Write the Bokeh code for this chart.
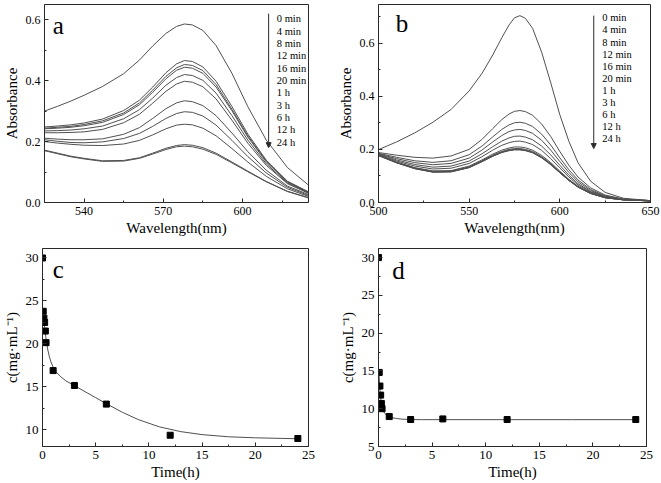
from bokeh.plotting import figure
from bokeh.layouts import column, row
from bokeh.models import Range1d, FixedTicker, PrintfTickFormatter, Arrow, NormalHead
from bokeh.core.properties import value
from bokeh.embed import file_html
from bokeh.resources import INLINE

# ---------------- data ----------------
time_labels = ["0 min", "4 min", "8 min", "12 min", "16 min", "20 min", "1 h", "3 h", "6 h", "12 h", "24 h"]

# panel a: UV-vis spectra
wl_a = [525, 530, 535, 540, 547, 555, 561, 566, 571, 575, 578, 581, 585, 590, 596, 602, 609, 617, 625]
a_0min = [.300, .316, .333, .352, .381, .423, .468, .514, .555, .578, .586, .583, .565, .515, .424, .315, .205, .115, .057]
a_4min = [.248, .251, .255, .261, .274, .302, .336, .379, .426, .455, .466, .463, .445, .398, .315, .225, .139, .070, .035]
a_8min = [.244, .247, .250, .256, .268, .294, .327, .369, .414, .442, .453, .450, .433, .387, .306, .219, .136, .068, .034]
a_12min = [.242, .244, .247, .252, .263, .289, .321, .362, .406, .434, .444, .441, .424, .379, .301, .215, .133, .067, .033]
a_16min = [.235, .236, .238, .242, .251, .275, .305, .343, .385, .410, .420, .417, .401, .359, .285, .205, .127, .064, .032]
a_20min = [.229, .229, .230, .232, .240, .262, .290, .326, .365, .389, .398, .395, .380, .340, .270, .195, .122, .062, .030]
a_1h = [.211, .208, .206, .206, .209, .224, .246, .276, .308, .327, .334, .331, .318, .285, .228, .167, .106, .054, .026]
a_3h = [.206, .201, .197, .196, .199, .210, .227, .250, .276, .292, .298, .296, .284, .254, .204, .151, .097, .050, .023]
a_6h = [.200, .195, .191, .188, .187, .192, .204, .222, .242, .254, .257, .255, .244, .219, .177, .133, .086, .045, .020]
a_12h = [.172, .162, .152, .145, .137, .138, .147, .162, .178, .187, .190, .188, .180, .162, .133, .103, .069, .037, .016]
a_24h = [.170, .160, .150, .143, .135, .136, .145, .159, .174, .183, .185, .183, .175, .158, .130, .101, .068, .036, .015]

# panel b: UV-vis spectra
wl_b = [500, 510, 520, 530, 540, 550, 557, 563, 568, 572, 575, 578, 581, 585, 590, 595, 600, 605, 610, 617, 625, 635, 650]
b_0min = [.199, .228, .262, .302, .350, .420, .485, .555, .620, .668, .695, .703, .693, .655, .565, .450, .330, .230, .150, .080, .038, .016, .007]
b_4min = [.188, .178, .170, .167, .175, .200, .237, .278, .312, .333, .343, .346, .342, .328, .295, .248, .192, .140, .096, .055, .028, .013, .007]
b_8min = [.185, .170, .157, .151, .157, .180, .212, .247, .275, .292, .300, .302, .298, .286, .257, .216, .168, .123, .085, .049, .025, .012, .007]
b_12min = [.183, .165, .150, .142, .147, .167, .197, .228, .252, .267, .273, .275, .271, .260, .234, .197, .154, .113, .078, .045, .023, .012, .007]
b_16min = [.182, .160, .143, .133, .137, .156, .183, .210, .231, .243, .249, .250, .246, .236, .212, .179, .140, .103, .071, .041, .022, .011, .006]
b_20min = [.180, .156, .137, .126, .129, .147, .172, .197, .215, .225, .230, .231, .227, .218, .196, .165, .130, .096, .066, .039, .020, .011, .006]
b_1h = [.179, .152, .131, .119, .120, .137, .160, .182, .197, .205, .209, .209, .206, .197, .177, .150, .118, .087, .061, .036, .019, .010, .006]
b_3h = [.178, .151, .130, .117, .118, .134, .157, .178, .192, .200, .203, .203, .200, .192, .172, .146, .115, .085, .059, .035, .018, .010, .006]
b_6h = [.177, .150, .128, .115, .116, .132, .155, .176, .190, .197, .200, .200, .197, .189, .170, .144, .113, .084, .059, .034, .018, .010, .006]
b_12h = [.176, .149, .127, .114, .115, .131, .153, .174, .189, .196, .199, .199, .196, .188, .169, .143, .112, .083, .058, .034, .018, .010, .006]
b_24h = [.178, .150, .128, .115, .116, .132, .154, .174, .188, .195, .198, .198, .195, .187, .168, .142, .112, .083, .058, .034, .018, .010, .006]

# panel c: concentration vs time
t_c = [0, 0.067, 0.133, 0.2, 0.267, 0.333, 1, 3, 6, 12, 24]
c_c = [30, 23.8, 23.0, 22.5, 21.5, 20.15, 16.9, 15.17, 13.0, 9.38, 9.0]
fit_t_c = [0.1, 0.2, 0.3, 0.4, 0.5, 0.65, 0.8, 1.0, 1.3, 1.7, 2.2, 3.0, 4.0, 5.0, 6.0, 7.5, 9.0, 11.0, 13.0, 15.0, 17.5, 20.0, 24.0]
fit_c_c = [23.2, 21.9, 20.9, 20.0, 19.3, 18.5, 17.9, 17.3, 16.7, 16.2, 15.7, 15.15, 14.45, 13.75, 13.05, 12.05, 11.2, 10.35, 9.8, 9.45, 9.2, 9.08, 8.97]

# panel d: concentration vs time
t_d = [0, 0.067, 0.133, 0.2, 0.267, 0.333, 1, 3, 6, 12, 24]
c_d = [30, 14.8, 13.0, 11.8, 10.7, 10.0, 8.96, 8.57, 8.65, 8.57, 8.57]
fit_t_d = [0.05, 0.1, 0.15, 0.2, 0.27, 0.33, 0.45, 0.6, 0.8, 1.0, 1.3, 1.7, 2.2, 3, 4, 6, 9, 12, 18, 24]
fit_c_d = [14.6, 13.2, 12.2, 11.4, 10.7, 10.2, 9.7, 9.35, 9.1, 8.95, 8.8, 8.7, 8.62, 8.57, 8.55, 8.55, 8.55, 8.55, 8.55, 8.55]

# ticks
xt_a, xm_a = [540, 570, 600], [555, 585, 615]
yt_a, ym_a = [0.0, 0.2, 0.4, 0.6], [0.1, 0.3, 0.5]
xt_b, xm_b = [500, 550, 600, 650], [525, 575, 625]
yt_b, ym_b = [0.0, 0.2, 0.4, 0.6], [0.1, 0.3, 0.5, 0.7]
xt_t, xm_t = [0, 5, 10, 15, 20, 25], [2.5, 7.5, 12.5, 17.5, 22.5]
yt_c, ym_c = [10, 15, 20, 25, 30], [12.5, 17.5, 22.5, 27.5]
yt_d, ym_d = [5, 10, 15, 20, 25, 30], [7.5, 12.5, 17.5, 22.5, 27.5]

# ---------------- styling ----------------
FONT = "Liberation Serif"
LINE = "#505050"
AX = "#2a2a2a"


def make_fig(w, h, xr, yr, bl, br, bt, bb):
    p = figure(width=w, height=h, x_range=Range1d(*xr), y_range=Range1d(*yr),
               output_backend="svg", toolbar_location=None,
               min_border_left=bl, min_border_right=br, min_border_top=bt, min_border_bottom=bb)
    p.grid.visible = False
    p.outline_line_color = AX
    p.outline_line_width = 1
    p.background_fill_color = "white"
    p.border_fill_color = "white"
    return p


def style(p, xt, xm, yt, ym, xlab, ylab, tick_size, yfmt=None):
    p.xaxis.ticker = FixedTicker(ticks=xt, minor_ticks=xm)
    p.yaxis.ticker = FixedTicker(ticks=yt, minor_ticks=ym)
    if yfmt:
        p.yaxis.formatter = PrintfTickFormatter(format=yfmt)
    p.xaxis.axis_label = xlab
    p.yaxis.axis_label = ylab
    for ax in p.axis:
        ax.major_tick_in = 4
        ax.major_tick_out = 0
        ax.minor_tick_in = 2
        ax.minor_tick_out = 0
        ax.axis_line_color = AX
        ax.major_tick_line_color = AX
        ax.minor_tick_line_color = AX
        ax.major_label_text_font = FONT
        ax.major_label_text_font_size = tick_size
        ax.major_label_text_color = "black"
        ax.major_label_text_line_height = 1.0
        ax.axis_label_text_font = FONT
        ax.axis_label_text_font_size = "15px"
        ax.axis_label_text_font_style = "normal"
        ax.axis_label_text_color = "black"
        ax.axis_label_text_line_height = 1.0
    p.xaxis.major_label_standoff = 4
    p.xaxis.axis_label_standoff = 2
    p.yaxis.major_label_standoff = 4
    p.yaxis.axis_label_standoff = 3


# ---------------- panel a ----------------
pa = make_fig(330, 241, (525, 625), (0, 0.65), 41, 22, 4, 39)
style(pa, xt_a, xm_a, yt_a, ym_a, "Wavelength(nm)", "Absorbance", "12px", "%.1f")
for ys in [a_0min, a_4min, a_8min, a_12min, a_16min, a_20min, a_1h, a_3h, a_6h, a_12h, a_24h]:
    pa.line(wl_a, ys, line_color=LINE, line_width=1)
pa.text(x=[530.2], y=[0.58], text=["a"], text_font=value(FONT), text_font_size="25px",
        text_align="center", text_baseline="middle", text_color="black")
step_a = 0.0405
pa.text(x=[613.0] * len(time_labels), y=[0.603 - i * step_a for i in range(len(time_labels))],
        text=time_labels, text_font=value(FONT), text_font_size="10.5px",
        text_align="left", text_baseline="middle", text_color="black")
pa.add_layout(Arrow(end=NormalHead(size=5, fill_color=AX, line_color=AX),
                    x_start=609.9, y_start=0.62, x_end=609.9, y_end=0.18,
                    line_color=AX, line_width=1))

# ---------------- panel b ----------------
pb = make_fig(330, 241, (500, 650), (0, 0.745), 48, 10, 4, 39)
style(pb, xt_b, xm_b, yt_b, ym_b, "Wavelength(nm)", "Absorbance", "12px", "%.1f")
for ys in [b_0min, b_4min, b_8min, b_12min, b_16min, b_20min, b_1h, b_3h, b_6h, b_12h, b_24h]:
    pb.line(wl_b, ys, line_color=LINE, line_width=1)
pb.text(x=[513.0], y=[0.674], text=["b"], text_font=value(FONT), text_font_size="25px",
        text_align="center", text_baseline="middle", text_color="black")
step_b = 0.0456
pb.text(x=[623.4] * len(time_labels), y=[0.695 - i * step_b for i in range(len(time_labels))],
        text=time_labels, text_font=value(FONT), text_font_size="10.5px",
        text_align="left", text_baseline="middle", text_color="black")
pb.add_layout(Arrow(end=NormalHead(size=5, fill_color=AX, line_color=AX),
                    x_start=618.7, y_start=0.703, x_end=618.7, y_end=0.203,
                    line_color=AX, line_width=1))

# ---------------- panel c ----------------
pc = make_fig(330, 241, (0, 25), (8.07, 31.1), 39, 22, 7, 35)
style(pc, xt_t, xm_t, yt_c, ym_c, "Time(h)", "c(mg·mL⁻¹)", "13px")
pc.line(fit_t_c, fit_c_c, line_color=LINE, line_width=1)
pc.scatter(t_c, c_c, marker="square", size=6, fill_color="black", line_color="black")
pc.text(x=[1.49], y=[28.6], text=["c"], text_font=value(FONT), text_font_size="25px",
        text_align="center", text_baseline="middle", text_color="black")

# ---------------- panel d ----------------
pd_ = make_fig(330, 241, (0, 25), (5, 31.2), 48, 14, 7, 35)
style(pd_, xt_t, xm_t, yt_d, ym_d, "Time(h)", "c(mg·mL⁻¹)", "13px")
pd_.line(fit_t_d, fit_c_d, line_color=LINE, line_width=1)
pd_.scatter(t_d, c_d, marker="square", size=6, fill_color="black", line_color="black")
pd_.text(x=[1.87], y=[28.3], text=["d"], text_font=value(FONT), text_font_size="25px",
         text_align="center", text_baseline="middle", text_color="black")

layout = column(row(pa, pb), row(pc, pd_))

open("out.html", "w").write(file_html(layout, INLINE))
